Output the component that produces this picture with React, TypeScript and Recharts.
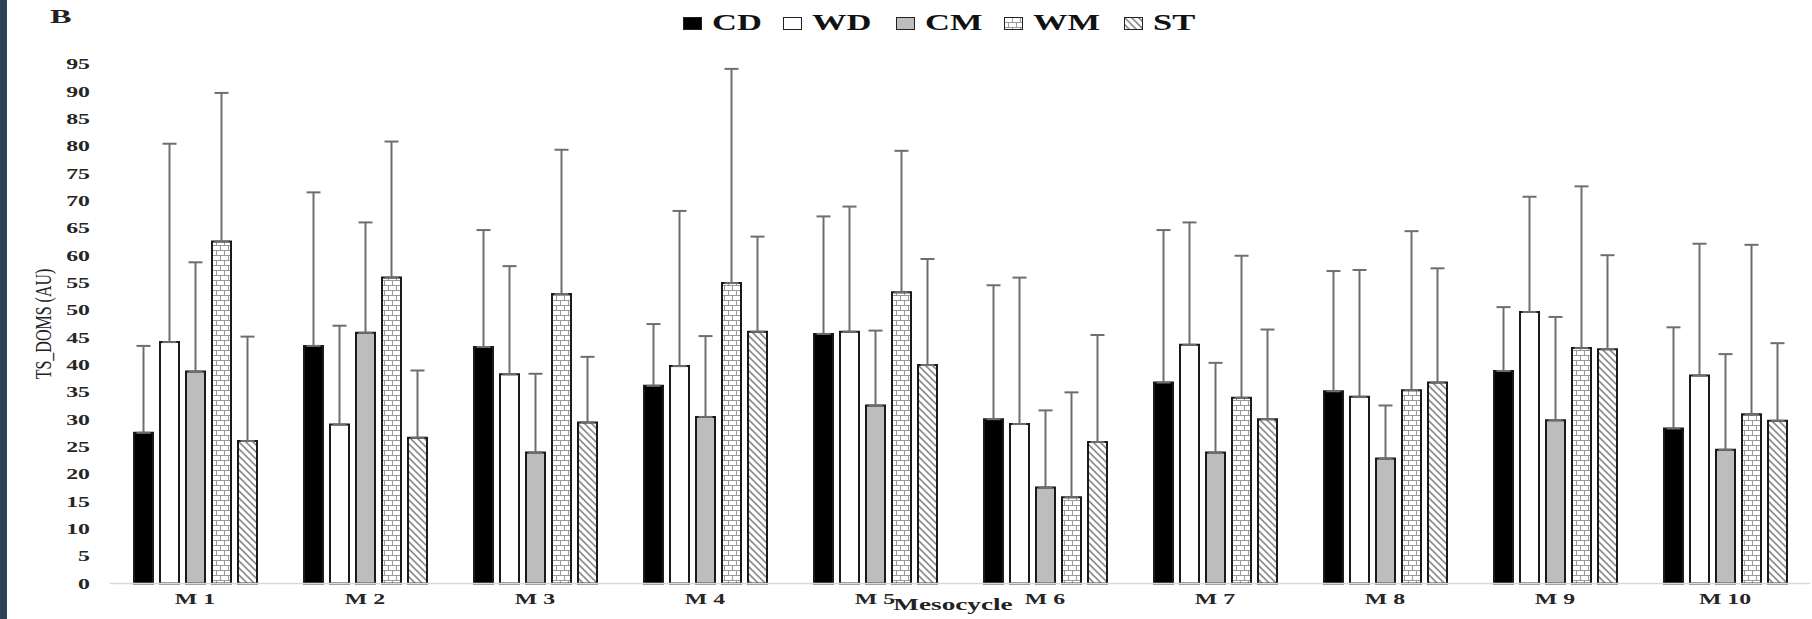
import React from "react";
import { Bar, BarChart, ErrorBar, XAxis, YAxis } from "recharts";

// mesocycles on the x axis
const mesocycles = ["M 1", "M 2", "M 3", "M 4", "M 5", "M 6", "M 7", "M 8", "M 9", "M 10"];

// group means (AU) and SD (drawn upwards only)
const cdMean = [27.6, 43.5, 43.3, 36.2, 45.7, 30.1, 36.8, 35.2, 38.9, 28.4];
const cdSd = [15.9, 28.1, 21.4, 11.3, 21.5, 24.5, 27.9, 22.0, 11.7, 18.5];
const wdMean = [44.2, 29.1, 38.3, 39.8, 46.1, 29.2, 43.7, 34.2, 49.7, 38.1];
const wdSd = [36.3, 18.1, 19.8, 28.4, 22.9, 26.8, 22.4, 23.2, 21.1, 24.1];
const cmMean = [38.8, 45.9, 24.0, 30.5, 32.6, 17.6, 24.0, 22.9, 29.9, 24.5];
const cmSd = [20.0, 20.2, 14.4, 14.8, 13.7, 14.1, 16.4, 9.7, 18.9, 17.5];
const wmMean = [62.6, 56.0, 53.0, 55.0, 53.3, 15.8, 34.0, 35.4, 43.1, 31.0];
const wmSd = [27.2, 24.9, 26.4, 39.2, 25.9, 19.2, 26.0, 29.1, 29.6, 31.0];
const stMean = [26.1, 26.7, 29.5, 46.1, 40.0, 25.9, 30.1, 36.8, 42.9, 29.8];
const stSd = [19.1, 12.3, 12.0, 17.4, 19.4, 19.6, 16.4, 20.9, 17.2, 14.2];

const yTicks = [0, 5, 10, 15, 20, 25, 30, 35, 40, 45, 50, 55, 60, 65, 70, 75, 80, 85, 90, 95];

const series = [
	{ key: "CD", mean: cdMean, sd: cdSd, fill: "#000000", legendW: 100 },
	{ key: "WD", mean: wdMean, sd: wdSd, fill: "#ffffff", legendW: 113 },
	{ key: "CM", mean: cmMean, sd: cmSd, fill: "#bdbdbd", legendW: 108 },
	{ key: "WM", mean: wmMean, sd: wmSd, fill: "url(#wmBrick)", legendW: 120 },
	{ key: "ST", mean: stMean, sd: stSd, fill: "url(#stHatch)", legendW: 72 },
];

const data = mesocycles.map((m, i) => {
	const row: Record<string, any> = { name: m };
	series.forEach((s) => {
		row[s.key] = s.mean[i];
		row[`${s.key}_err`] = [0, s.sd[i]];
	});
	return row;
});

const SERIF = '"Liberation Serif", "Times New Roman", serif';
const STRETCH = 1.7;

const YTick = ({ x, y, payload }: any) => (
	<text
		transform={`translate(${x},${y}) scale(${STRETCH},1)`}
		textAnchor="end"
		dy="0.35em"
		fontFamily={SERIF}
		fontWeight="bold"
		fontSize={14}
		fill="#262626"
	>
		{payload.value}
	</text>
);

const XTick = ({ x, y, payload }: any) => (
	<text
		transform={`translate(${x},${y + 20}) scale(${STRETCH},1)`}
		textAnchor="middle"
		fontFamily={SERIF}
		fontWeight="bold"
		fontSize={14}
		fill="#262626"
	>
		{payload.value}
	</text>
);

const Swatch = ({ fill }: { fill: string }) => (
	<svg width={19} height={13} style={{ display: "block" }}>
		<rect x={0.5} y={0.5} width={18} height={12} fill={fill} stroke="#222" strokeWidth={1} />
	</svg>
);

export default function App() {
	return (
		<div
			style={{
				position: "absolute",
				left: 0,
				top: 0,
				width: 1812,
				height: 619,
				background: "#fff",
				fontFamily: SERIF,
				overflow: "hidden",
			}}
		>
			<div style={{ position: "absolute", left: 0, top: 0, width: 7, height: 619, background: "#2c4257" }} />

			<BarChart
				width={1812}
				height={619}
				data={data}
				margin={{ top: 64.5, right: 2, left: 0, bottom: 0 }}
				barSize={19}
				barGap={7}
			>
				<defs>
					<pattern id="wmBrick" width={8} height={10} patternUnits="userSpaceOnUse">
						<rect width={8} height={10} fill="#fff" />
						<path d="M0 0.5 H8 M0 5.5 H8 M0.5 0 V5.5 M4.5 5.5 V10" stroke="#9a9a9a" strokeWidth={1} fill="none" />
					</pattern>
					<pattern id="stHatch" width={7} height={7} patternUnits="userSpaceOnUse">
						<rect width={7} height={7} fill="#fff" />
						<path d="M-1.75 5.25 L1.75 8.75 M0 0 L7 7 M5.25 -1.75 L8.75 1.75" stroke="#8c8c8c" strokeWidth={1.6} />
					</pattern>
				</defs>
				<XAxis
					dataKey="name"
					height={35.4}
					tick={<XTick />}
					tickLine={false}
					tickSize={0}
					tickMargin={0}
					axisLine={{ stroke: "#d9d9d9", strokeWidth: 1.5 }}
					interval={0}
				/>
				<YAxis
					width={110}
					domain={[0, 95]}
					ticks={yTicks}
					interval={0}
					tick={<YTick />}
					tickLine={false}
					tickSize={0}
					tickMargin={20}
					axisLine={false}
				/>
				{series.map((s) => (
					<Bar
						key={s.key}
						dataKey={s.key}
						fill={s.fill}
						stroke="#1a1a1a"
						strokeWidth={2}
						isAnimationActive={false}
					>
						<ErrorBar
							dataKey={`${s.key}_err`}
							direction="y"
							width={7}
							stroke="#6e6e6e"
							strokeWidth={2}
						/>
					</Bar>
				))}
			</BarChart>

			{/* panel letter */}
			<div
				style={{
					position: "absolute",
					left: 50,
					top: 6,
					fontSize: 19,
					fontWeight: "bold",
					color: "#222",
					transform: `scaleX(${STRETCH})`,
					transformOrigin: "left top",
				}}
			>
				B
			</div>

			{/* legend */}
			<div
				style={{
					position: "absolute",
					left: 683,
					top: 10,
					height: 26,
					display: "flex",
					alignItems: "center",
				}}
			>
				{series.map((s) => (
					<div key={s.key} style={{ display: "flex", alignItems: "center", width: s.legendW }}>
						<Swatch fill={s.fill} />
						<span
							style={{
								marginLeft: 10,
								display: "inline-block",
								fontSize: 23,
								fontWeight: "bold",
								color: "#111",
								transform: "scaleX(1.5)",
								transformOrigin: "left center",
								lineHeight: "26px",
							}}
						>
							{s.key}
						</span>
					</div>
				))}
			</div>

			{/* y axis title */}
			<div
				style={{
					position: "absolute",
					left: 44,
					top: 324,
					fontSize: 16,
					color: "#222",
					whiteSpace: "nowrap",
					transform: "translate(-50%, -50%) rotate(-90deg) scaleY(1.4)",
				}}
			>
				TS_DOMS (AU)
			</div>

			{/* x axis title */}
			<div
				style={{
					position: "absolute",
					left: 953,
					top: 596,
					fontSize: 16,
					fontWeight: "bold",
					color: "#222",
					whiteSpace: "nowrap",
					transform: `translateX(-50%) scaleX(${STRETCH})`,
					lineHeight: "18px",
				}}
			>
				Mesocycle
			</div>
		</div>
	);
}
